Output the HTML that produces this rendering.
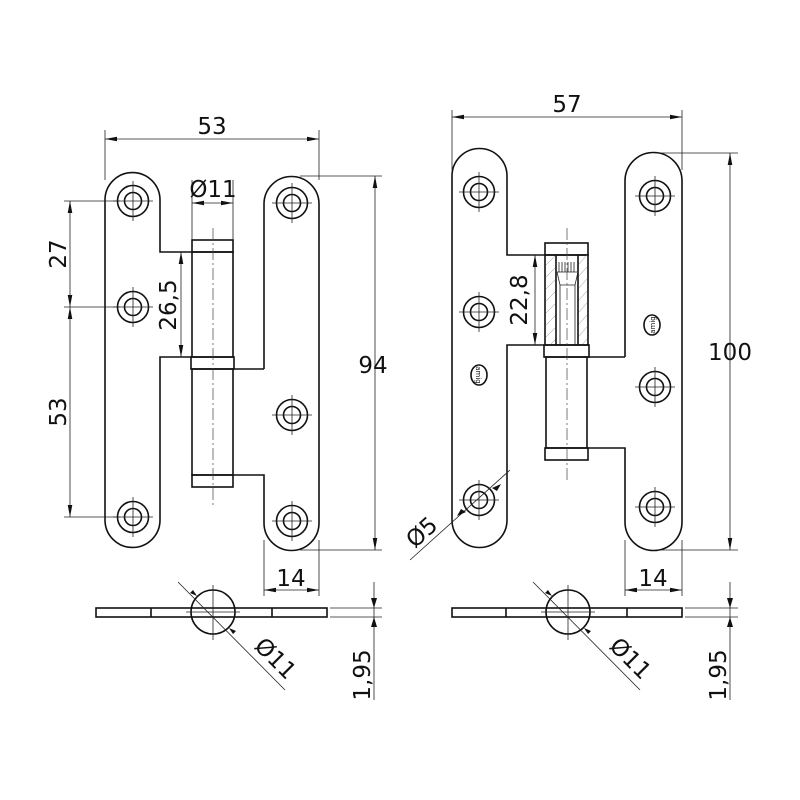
<!DOCTYPE html>
<html><head><meta charset="utf-8"><style>
html,body{margin:0;padding:0;background:#fff}
svg{display:block}
text{font-family:"DejaVu Sans","Liberation Sans",sans-serif;font-size:23px;fill:#111}
.o{fill:none;stroke:#111;stroke-width:1.6}
.t{fill:none;stroke:#222;stroke-width:0.8}
.c{fill:none;stroke:#444;stroke-width:0.7;stroke-dasharray:12 3 2 3}
.d{fill:none;stroke:#222;stroke-width:0.8;marker-start:url(#a);marker-end:url(#a)}
.e{fill:none;stroke:#222;stroke-width:0.8;marker-end:url(#a)}
.h{fill:none;stroke:#888;stroke-width:0.5}
</style></head><body>
<svg width="800" height="800" viewBox="0 0 800 800" xmlns="http://www.w3.org/2000/svg">
<defs>
<marker id="a" viewBox="0 0 12 6" refX="12" refY="3" markerWidth="12" markerHeight="6" orient="auto-start-reverse" markerUnits="userSpaceOnUse"><path d="M12,3 L0,0.7 L0,5.3 Z" fill="#111"/></marker>
<g id="hole"><circle r="15.5" class="o" stroke-width="1.3"/><circle r="8.5" class="o" stroke-width="1.3"/><path d="M-20,0H20M0,-20V20" class="t" stroke-width="0.6"/></g>
</defs>

<!-- LEFT HINGE -->
<path class="o" d="M192,252 H160 V200 A27.5,27.5 0 0 0 105,200 V520 A27.5,27.5 0 0 0 160,520 V357 H192"/>
<path class="o" d="M264,369 V204 A27.5,27.5 0 0 1 319,204 V523 A27.5,27.5 0 0 1 264,523 V475 H233 M233,369 H264"/>
<rect class="o" x="192" y="240" width="41" height="12"/>
<rect class="o" x="192" y="252" width="41" height="105"/>
<rect class="o" x="191" y="357" width="43" height="12"/>
<rect class="o" x="192" y="369" width="41" height="106"/>
<rect class="o" x="192" y="475" width="41" height="12"/>
<path class="c" d="M213,228V505"/>
<use href="#hole" x="133" y="201"/><use href="#hole" x="133" y="307"/><use href="#hole" x="133" y="517"/>
<use href="#hole" x="292" y="203"/><use href="#hole" x="292" y="415"/><use href="#hole" x="292" y="521"/>
<!-- dims left -->
<path class="t" d="M105,130V180M319,130V180"/>
<path class="d" d="M105,139H319"/>
<text x="212" y="134" text-anchor="middle">53</text>
<path class="t" d="M64,201H120M64,307H120M64,517H120"/>
<path class="d" d="M70,201V307"/><path class="d" d="M70,307V517"/>
<text transform="translate(66,254) rotate(-90)" text-anchor="middle">27</text>
<text transform="translate(66,412) rotate(-90)" text-anchor="middle">53</text>
<path class="t" d="M192,180V240M233,180V240"/>
<path class="d" d="M192,203H233"/>
<text x="213" y="197" text-anchor="middle">Ø11</text>
<path class="d" d="M181,252V357"/>
<text transform="translate(176,305) rotate(-90)" text-anchor="middle">26,5</text>
<path class="t" d="M300,176H382M300,550H382"/>
<path class="d" d="M375,176V550"/>
<text x="373" y="373" text-anchor="middle">94</text>
<path class="t" d="M264,540V596M319,540V596"/>
<path class="d" d="M264,590H319"/>
<text x="291" y="586" text-anchor="middle">14</text>
<!-- side view left -->
<rect class="o" x="96" y="608" width="231" height="9"/>
<path class="o" d="M151,608V617M272,608V617"/>
<circle cx="213" cy="612" r="22" fill="#fff" class="o"/>
<path class="t" d="M213,585V640M186,612H240"/>
<path class="t" d="M178,582L285,690"/>
<path d="M197,596l-7,-3 3,-3z M229,628l7,3 -3,3z" fill="#111"/>
<text transform="translate(270,664) rotate(45)" text-anchor="middle">Ø11</text>
<path class="t" d="M330,608H382M330,617H382"/>
<path class="t" d="M374,582V700"/>
<path d="M374,608l-3,-10 6,0z M374,617l-3,10 6,0z" fill="#111"/>
<text transform="translate(370,675) rotate(-90)" text-anchor="middle">1,95</text>

<!-- RIGHT HINGE -->
<path class="o" d="M545,255 H507 V176 A27.5,27.5 0 0 0 452,176 V520 A27.5,27.5 0 0 0 507,520 V345 H545"/>
<path class="o" d="M625,357 V181 A28.5,28.5 0 0 1 682,181 V522 A28.5,28.5 0 0 1 625,522 V448 H588 M588,357 H625"/>
<rect class="o" x="545" y="243" width="43" height="12"/>
<rect class="o" x="545" y="255" width="43" height="90"/>
<path class="h" d="M546,265l10,-10M546,277l10,-10M546,289l10,-10M546,301l10,-10M546,313l10,-10M546,325l10,-10M546,337l10,-10M550,345l6,-6M578,265l9,-10M578,277l9,-10M578,289l9,-10M578,301l9,-10M578,313l9,-10M578,325l9,-10M578,337l9,-10M582,345l5,-6"/>
<path class="o" d="M556,255V345M578,255V345" stroke-width="1.2"/>
<path class="t" d="M557,272H577M559,262V272M562,262V272M565,262V272M568,262V272M571,262V272M574,262V272M557,272L560,285H575L578,272M560,285V345M575,285V345"/>
<rect class="o" x="544" y="345" width="45" height="12"/>
<rect class="o" x="546" y="357" width="41" height="91"/>
<rect class="o" x="545" y="448" width="43" height="12"/>
<path class="c" d="M567,228V480"/>
<use href="#hole" x="479" y="192"/><use href="#hole" x="479" y="312"/><use href="#hole" x="479" y="500"/>
<use href="#hole" x="655" y="196"/><use href="#hole" x="655" y="387"/><use href="#hole" x="655" y="507"/>
<ellipse cx="479" cy="375" rx="8" ry="10" class="o" stroke-width="1"/>
<text transform="translate(476,375) rotate(90)" text-anchor="middle" style="font-size:7px">amig</text>
<ellipse cx="652" cy="325" rx="8" ry="10" class="o" stroke-width="1"/>
<text transform="translate(655,325) rotate(-90)" text-anchor="middle" style="font-size:7px">amig</text>
<!-- dims right -->
<path class="t" d="M452,110V170M682,110V170"/>
<path class="d" d="M452,117H682"/>
<text x="567" y="112" text-anchor="middle">57</text>
<path class="t" d="M655,153H738M655,550H738"/>
<path class="d" d="M730,153V550"/>
<text x="730" y="360" text-anchor="middle">100</text>
<path class="t" d="M530,255H545M530,345H545"/>
<path class="d" d="M535,255V345"/>
<text transform="translate(527,300) rotate(-90)" text-anchor="middle">22,8</text>
<path class="t" d="M410,560L510,470"/>
<path d="M466,512l-9,4 4,-7z M492,488l9,-4 -4,7z" fill="#111"/>
<text transform="translate(427,538) rotate(-42)" text-anchor="middle">Ø5</text>
<path class="t" d="M625,540V596M682,540V596"/>
<path class="d" d="M625,590H682"/>
<text x="653" y="586" text-anchor="middle">14</text>
<!-- side view right -->
<rect class="o" x="452" y="608" width="230" height="9"/>
<path class="o" d="M506,608V617M627,608V617"/>
<circle cx="568" cy="612" r="22" fill="#fff" class="o"/>
<path class="t" d="M568,585V640M541,612H595"/>
<path class="t" d="M533,582L640,690"/>
<path d="M552,596l-7,-3 3,-3z M584,628l7,3 -3,3z" fill="#111"/>
<text transform="translate(625,664) rotate(45)" text-anchor="middle">Ø11</text>
<path class="t" d="M685,608H738M685,617H738"/>
<path class="t" d="M730,582V700"/>
<path d="M730,608l-3,-10 6,0z M730,617l-3,10 6,0z" fill="#111"/>
<text transform="translate(726,675) rotate(-90)" text-anchor="middle">1,95</text>
</svg>
</body></html>
